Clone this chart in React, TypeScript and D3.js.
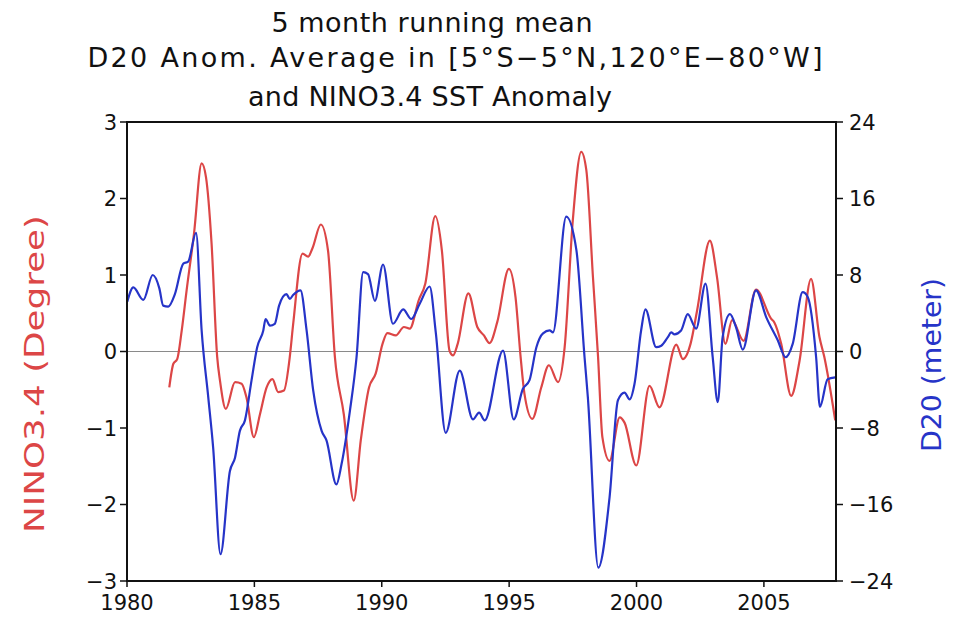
import React from "react";
import * as d3 from "d3";

const titleLines = [
  "5 month running mean",
  "D20 Anom. Average in [5\u00B0S\u22125\u00B0N,120\u00B0E\u221280\u00B0W]",
  "and NINO3.4 SST Anomaly",
];

const xTicks = [1980, 1985, 1990, 1995, 2000, 2005];
const leftTicks = [-3, -2, -1, 0, 1, 2, 3];
const rightTicks = [-24, -16, -8, 0, 8, 16, 24];

// NINO3.4 SST anomaly (degree), 5-month running mean
const ninoYears = [
  1981.66, 1981.82, 1981.97, 1982.15, 1982.34, 1982.63, 1982.93, 1983.1, 1983.32, 1983.54,
  1983.65, 1983.88, 1984.24, 1984.5, 1984.69, 1984.98, 1985.22, 1985.48, 1985.71, 1985.93,
  1986.16, 1986.39, 1986.52, 1986.89, 1987.11, 1987.28, 1987.61, 1987.89, 1988.16, 1988.51,
  1988.9, 1989.18, 1989.5, 1989.76, 1990.03, 1990.22, 1990.55, 1990.87, 1991.1, 1991.45,
  1991.71, 1992.1, 1992.36, 1992.66, 1992.8, 1992.98, 1993.4, 1993.75, 1994.01, 1994.23,
  1994.53, 1994.99, 1995.25, 1995.45, 1995.6, 1995.91, 1996.26, 1996.56, 1996.92, 1997.18,
  1997.5, 1997.83, 1998.03, 1998.29, 1998.49, 1998.66, 1998.94, 1999.34, 1999.53, 1999.99,
  2000.51, 2000.9, 2001.56, 2001.82, 2002.12, 2002.38, 2002.88, 2003.16, 2003.49, 2003.75,
  2004.2, 2004.69, 2005.28, 2005.41, 2005.68, 2006.07, 2006.4, 2006.85, 2007.18, 2007.37,
  2007.8,
];
const ninoValues = [
  -0.47, -0.16, -0.1, 0.28, 0.8, 1.54, 2.46, 2.28, 1.41, -0.07,
  -0.38, -0.75, -0.4, -0.42, -0.6, -1.12, -0.82, -0.47, -0.36, -0.53,
  -0.51, -0.07, 0.35, 1.28, 1.24, 1.35, 1.66, 1.32, -0.07, -0.82,
  -1.95, -1.15, -0.47, -0.29, 0.1, 0.24, 0.21, 0.32, 0.3, 0.67,
  0.89, 1.77, 1.32, 0.01, -0.05, 0.1, 0.76, 0.32, 0.21, 0.11,
  0.38, 1.08, 0.71, -0.07, -0.55, -0.88, -0.47, -0.18, -0.4, 0.06,
  1.72, 2.61, 2.37, 0.97, -0.07, -1.12, -1.43, -0.86, -0.93, -1.49,
  -0.45, -0.73, 0.09, -0.1, 0.1, 0.54, 1.45, 0.97, 0.1, 0.41,
  0.14, 0.81, 0.43, 0.38, 0.1, -0.58, -0.12, 0.95, 0.19, -0.07,
  -0.9,
];

// D20 anomaly (meter), 5-month running mean
const d20Years = [
  1980.01, 1980.25, 1980.64, 1981.01, 1981.27, 1981.42, 1981.62, 1981.88, 1982.21, 1982.4,
  1982.71, 1982.93, 1983.19, 1983.38, 1983.67, 1984.04, 1984.24, 1984.43, 1984.63, 1984.89,
  1985.11, 1985.35, 1985.44, 1985.61, 1985.8, 1985.97, 1986.26, 1986.39, 1986.52, 1986.81,
  1987.05, 1987.31, 1987.64, 1987.83, 1988.22, 1988.42, 1988.75, 1989.01, 1989.27, 1989.46,
  1989.73, 1990.05, 1990.44, 1990.84, 1991.16, 1991.49, 1991.88, 1992.12, 1992.51, 1993.06,
  1993.58, 1993.82, 1994.04, 1994.76, 1995.18, 1995.54, 1995.8, 1996.07, 1996.33, 1996.59,
  1996.72, 1997.24, 1997.64, 1997.96, 1998.09, 1998.5, 1998.94, 1999.27, 1999.53, 1999.73,
  1999.92, 2000.18, 2000.35, 2000.77, 2000.97, 2001.23, 2001.36, 2001.49, 2001.75, 2002.01,
  2002.34, 2002.71, 2002.99, 2003.19, 2003.38, 2003.67, 2003.91, 2004.17, 2004.69, 2005.09,
  2005.54, 2005.85, 2006.13, 2006.52, 2006.72, 2007.05, 2007.2, 2007.5, 2007.8,
];
const d20Values = [
  5.2, 6.7, 5.4, 8.0, 6.6, 4.8, 4.7, 6.0, 9.2, 9.4,
  12.4, 2.2, -4.8, -10, -21.2, -12.5, -11.1, -8.3, -7.2, -3.0,
  0.45, 2.2, 3.4, 2.7, 2.9, 4.8, 6.0, 5.5, 5.9, 6.4,
  2.2, -4.1, -8.3, -9.3, -13.9, -11.8, -6.2, -0.6, 8.3, 8.1,
  5.3, 9.1, 2.9, 4.4, 3.4, 5.0, 6.8, 2.0, -8.5, -2.0,
  -7.1, -6.4, -7.2, 0.1, -7.1, -3.9, -3.0, 0.45, 1.9, 2.2,
  2.0, 14.1, 10.6, -0.6, -4.8, -22.6, -15.3, -5.1, -4.3, -5.0,
  -3.4, 2.2, 4.4, 0.45, 0.6, 1.5, 2.0, 1.8, 2.2, 3.9,
  2.4, 7.1, -0.6, -5.3, 1.5, 3.9, 2.5, 0.2, 6.4, 3.6,
  1.2, -0.6, 0.8, 6.2, 5.7, -0.6, -5.8, -2.9, -2.7,
];

const W = 964;
const H = 617;
const M = { left: 127, right: 836, top: 122, bottom: 581 };
const RED = "#dc4646";
const BLUE = "#2634c8";
const FONT = "'DejaVu Sans', sans-serif";

export default function App() {
  const x = d3.scaleLinear().domain([1980, 2007.83]).range([M.left, M.right]);
  const yL = d3.scaleLinear().domain([-3, 3]).range([M.bottom, M.top]);
  const yR = d3.scaleLinear().domain([-24, 24]).range([M.bottom, M.top]);

  const ninoData = ninoYears.map((t, i) => [t, ninoValues[i]] as [number, number]);
  const d20Data = d20Years.map((t, i) => [t, d20Values[i]] as [number, number]);

  const ninoLine = d3
    .line<[number, number]>()
    .x((d) => x(d[0]))
    .y((d) => yL(d[1]))
    .curve(d3.curveMonotoneX);
  const d20Line = d3
    .line<[number, number]>()
    .x((d) => x(d[0]))
    .y((d) => yR(d[1]))
    .curve(d3.curveMonotoneX);

  const titleCfg = [
    { cx: 432, y: 32, len: 321 },
    { cx: 455, y: 67, len: 735 },
    { cx: 430, y: 106, len: 364 },
  ];

  return (
    <svg
      width={W}
      height={H}
      style={{ position: "absolute", left: 0, top: 0, background: "#fff" }}
      fontFamily={FONT}
    >
      <rect x={0} y={0} width={W} height={H} fill="#fff" />
      {titleLines.map((t, i) => (
        <text
          key={i}
          x={titleCfg[i].cx}
          y={titleCfg[i].y}
          textAnchor="middle"
          fontSize={27}
          fill="#111"
          textLength={titleCfg[i].len}
          lengthAdjust="spacing"
        >
          {t}
        </text>
      ))}

      {/* zero line */}
      <line x1={M.left} x2={M.right} y1={yL(0)} y2={yL(0)} stroke="#8a8a8a" strokeWidth={1} />

      <clipPath id="plotclip">
        <rect x={M.left} y={M.top} width={M.right - M.left} height={M.bottom - M.top} />
      </clipPath>
      <g clipPath="url(#plotclip)">
        <path d={ninoLine(ninoData) || ""} fill="none" stroke={RED} strokeWidth={2.2} strokeLinejoin="round" />
        <path d={d20Line(d20Data) || ""} fill="none" stroke={BLUE} strokeWidth={2.2} strokeLinejoin="round" />
      </g>

      {/* frame */}
      <rect
        x={M.left}
        y={M.top}
        width={M.right - M.left}
        height={M.bottom - M.top}
        fill="none"
        stroke="#111"
        strokeWidth={2}
      />

      {/* x ticks */}
      {xTicks.map((t) => (
        <g key={t}>
          <line x1={x(t)} x2={x(t)} y1={M.bottom} y2={M.bottom + 6} stroke="#111" strokeWidth={1.5} />
          <text x={x(t)} y={610} textAnchor="middle" fontSize={21} fill="#111">
            {t}
          </text>
        </g>
      ))}

      {/* left ticks */}
      {leftTicks.map((t) => (
        <g key={t}>
          <line x1={M.left - 7} x2={M.left} y1={yL(t)} y2={yL(t)} stroke="#111" strokeWidth={1.5} />
          <text x={117} y={yL(t) + 7.5} textAnchor="end" fontSize={21} fill="#111">
            {t < 0 ? "\u2212" + Math.abs(t) : String(t)}
          </text>
        </g>
      ))}

      {/* right ticks */}
      {rightTicks.map((t) => (
        <g key={t}>
          <line x1={M.right} x2={M.right + 7} y1={yR(t)} y2={yR(t)} stroke="#111" strokeWidth={1.5} />
          <text x={849} y={yR(t) + 7.5} textAnchor="start" fontSize={21} fill="#111">
            {t < 0 ? "\u2212" + Math.abs(t) : String(t)}
          </text>
        </g>
      ))}

      {/* axis titles */}
      <text
        transform={`translate(44, 374) rotate(-90)`}
        textAnchor="middle"
        fontSize={26}
        fill={RED}
        textLength={318}
        lengthAdjust="spacingAndGlyphs"
      >
        NINO3.4  (Degree)
      </text>
      <text
        transform={`translate(941, 365) rotate(-90)`}
        textAnchor="middle"
        fontSize={26}
        fill={BLUE}
        textLength={174}
        lengthAdjust="spacingAndGlyphs"
      >
        D20  (meter)
      </text>
    </svg>
  );
}
